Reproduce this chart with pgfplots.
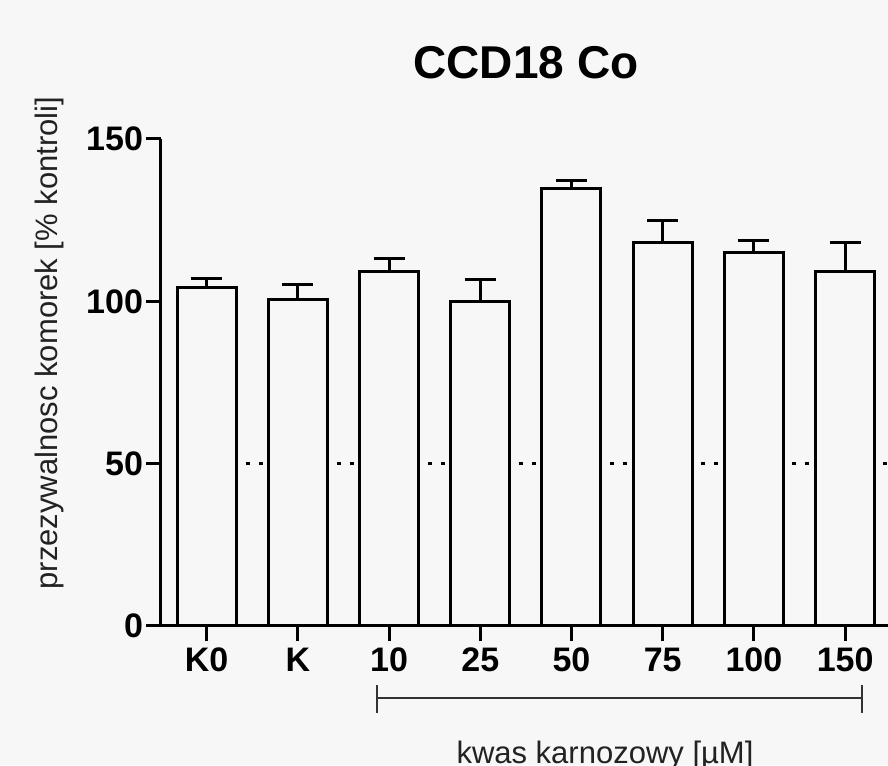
\documentclass[border=0pt]{standalone}
\usepackage{pgfplots}
\pgfplotsset{compat=1.18}
\usepackage{fontspec}
\setmainfont{Liberation Sans}
\definecolor{bg}{HTML}{F7F7F7}
\definecolor{txt}{HTML}{222222}
\pgfplotstableread{
x y e
0 104.3 2.8
1 100.6 4.7
2 109.3 4.0
3 99.8 6.8
4 134.9 2.2
5 118.0 7.0
6 114.9 3.7
7 109.3 8.7
}\bars
\begin{document}
\begin{tikzpicture}[x=1pt,y=1pt]
\path[use as bounding box, fill=bg] (0,0) rectangle (444,382.5);
\begin{scope}
\clip (0,0) rectangle (444,382.5);
\begin{axis}[
  at={(80.5pt,69.5pt)}, anchor=south west,
  scale only axis, width=363.5pt, height=243.5pt,
  xmin=-0.5, xmax=7.47, ymin=0, ymax=150,
  axis x line=bottom, axis y line=left,
  axis line style={line width=1.5pt, -, black},
  tick align=outside,
  major tick length=7.5pt,
  tick style={line width=1.5pt, black},
  ytick={0,50,100,150},
  xtick={0,...,7},
  xticklabels={K0,K,10,25,50,75,100,150},
  ticklabel style={font=\fontsize{17}{20}\selectfont\bfseries, text=black},
  yticklabel style={xshift=2pt},
  /pgf/number format/assume math mode=true,
  clip=false,
]
\addplot[black, line width=1.5pt, dash pattern=on 2pt off 4.5pt, forget plot] coordinates {(0,50) (7.47,50)};
\addplot[ybar, bar width=29.5pt, fill=bg, draw=black, line width=1.5pt,
  error bars/.cd, y dir=plus, y explicit,
  error bar style={line width=1.5pt, black},
  error mark options={rotate=90, line width=1.5pt, mark size=7.75pt, black}]
  table[x=x, y=y, y error=e] {\bars};
\end{axis}
\end{scope}
\node[font=\fontsize{23}{26}\selectfont\bfseries, anchor=base, inner sep=0pt] at (263,343) {CCD18 Co};
\node[font=\fontsize{15.5}{18}\selectfont, text=txt, rotate=90, anchor=base, inner sep=0pt] at (28.5,211) {przezywalnosc komorek [\% kontroli]};
\draw[line width=1.25pt, black!80] (188.5,33.5) -- (431,33.5);
\draw[line width=1.25pt, black!80] (188.5,40) -- (188.5,26);
\draw[line width=1.25pt, black!80] (431,40) -- (431,26);
\node[font=\fontsize{15.5}{18}\selectfont, text=txt, anchor=base, inner sep=0pt] at (302.5,1) {kwas karnozowy [µM]};
\end{tikzpicture}
\end{document}
